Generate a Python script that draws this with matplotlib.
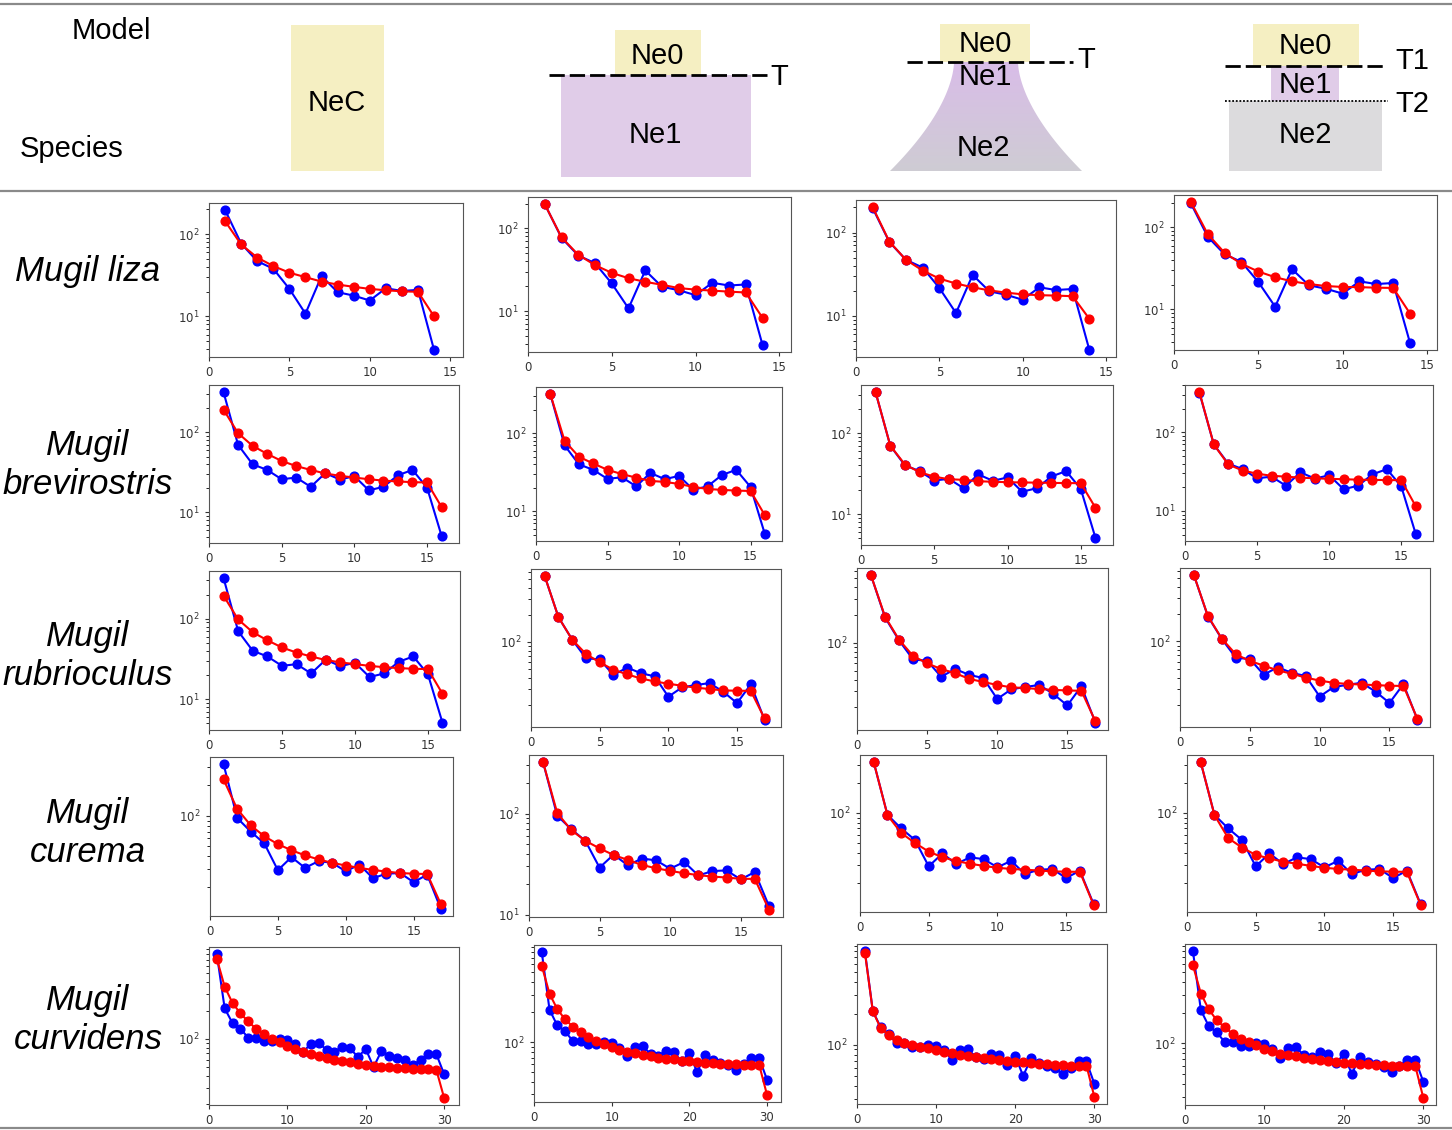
import matplotlib.pyplot as plt
import numpy as np
from matplotlib.patches import Rectangle, Polygon
from matplotlib.ticker import MultipleLocator

W, H = 1452, 1130

species = ['Mugil liza', 'Mugil\nbrevirostris', 'Mugil\nrubrioculus',
           'Mugil\ncurema', 'Mugil\ncurvidens']

# observed SFS (blue)
obs_liza = [197, 77, 47, 38, 21.6, 10.8, 31, 19.7, 17.9, 15.6, 22, 20.4, 21, 3.9]
obs_brevi = [319, 70, 40, 34, 26, 27.3, 20.9, 31, 25.8, 28.4, 18.9, 20.9, 29.2, 34, 20.5, 5.1]
obs_rubrio = [536, 188, 106, 66, 64, 43, 52, 45, 41.6, 24.7, 31.4, 33.3, 35, 28, 21, 33.9, 13.7]
obs_curema = [322, 95.5, 70, 53.6, 29.2, 39.3, 30.8, 35.9, 34.5, 28.5, 33.2, 24.4, 27, 27.4,
              22.3, 26.4, 12.2]
obs_curv = [798, 211, 147, 128, 103, 103, 95, 95, 100, 98, 88, 72, 89, 91, 76, 73, 82, 79, 64,
            78, 50, 74, 66, 62, 59, 52, 60, 69, 69, 42]

# model SFS (red): constant, two-epoch, growth, three-epoch
liza_nec = [144, 75, 52, 41, 34, 30, 26.5, 24.4, 22.9, 21.6, 20.8, 20.2, 19.9, 10]
liza_two = [196, 78, 48, 36, 29, 25, 22.6, 20.8, 19, 18.2, 17.7, 17.2, 16.8, 8.3]
liza_exp = [202, 78, 47, 35, 28, 24.4, 22, 20.2, 19, 18.1, 17.7, 17.5, 17.2, 9.2]
liza_three = [204, 83, 49, 36, 29, 24.7, 22, 20.4, 19.3, 18.8, 18.7, 18.4, 18.3, 8.9]

brevi_nec = [193, 98, 68, 54, 44, 38, 34, 30.7, 28.7, 27.3, 26, 25, 24.4, 23.9, 23.7, 11.7]
brevi_two = [320, 80, 50, 41, 34, 30, 27, 24.5, 23.8, 22.4, 20.5, 19.3, 18.8, 18.4, 18.2, 8.9]
brevi_exp = [321, 70, 41, 33, 29, 27, 26.5, 25.5, 25.1, 24.8, 24.6, 24.5, 24.3, 24.2, 24.1, 12]
brevi_three = [325, 70, 39, 32.6, 29.8, 28, 27.3, 26.5, 26, 25.6, 25.3, 25, 24.8, 24.7, 24.6, 11.5]

rubrio_two = [536, 188, 106, 73.6, 59.4, 49.3, 43.7, 39.4, 36.5, 34.4, 32.7, 31.1, 30.1, 29,
              28.8, 28.7, 14.2]
rubrio_exp = [535, 192, 108, 72, 60, 52, 47, 40.7, 37.7, 35, 33, 32.4, 31.6, 31, 30.5, 30.3, 14.2]
rubrio_three = [535, 190, 107, 72, 61, 54, 48, 44, 40, 37, 35, 34, 33.5, 33, 32.5, 32.3, 14]

curema_nec = [228, 117, 80.6, 63, 52.7, 45.9, 40.9, 37.3, 34.5, 32.5, 30.8, 29.4, 28.3, 27.4,
              27, 26.8, 13.6]
curema_two = [322, 101.5, 68.5, 53.8, 45.3, 38.9, 34.8, 31, 28.8, 27.1, 25.7, 24.6, 23.8, 23.3,
              22.6, 22.6, 11.2]
curema_exp = [323, 95, 63, 50, 41, 36, 33, 31, 29.5, 28.2, 27.5, 27, 26.5, 26, 25.8, 25.7, 12]
curema_three = [323, 95, 56, 45, 38, 35, 32.5, 31, 29.5, 28.2, 27.5, 27, 26.5, 26, 25.8, 25.7, 12]

curv_nec = [713, 359, 241, 187, 153, 128, 112, 100, 91.5, 83.8, 78, 73, 68.6, 65.3, 62.2, 59.8,
            57.4, 56, 54.2, 52.9, 51.7, 50.4, 49.7, 48.9, 48.5, 47.7, 47.3, 47.3, 46.9, 23.5]
curv_two = [583, 305, 214, 169, 143, 125, 112, 103, 95.5, 89, 84, 80, 77, 74, 72, 70, 68, 67, 65,
            64.4, 63.4, 62.4, 61.5, 61, 60, 59.7, 59.3, 59.3, 58.8, 29.6]
curv_exp = [774, 211, 144, 124, 111.6, 105, 100, 95.7, 92.3, 89, 85.8, 82.7, 80.3, 78, 75.7, 74.1,
            72.5, 71, 69.3, 68.4, 67.4, 66.4, 65.4, 64.5, 64, 63.5, 63, 63, 63, 31.5]
curv_three = [582, 307, 215, 168, 143, 124, 111, 103, 95.6, 88.6, 83.5, 79.3, 77.5, 74.6, 72.3,
              70.2, 68.6, 67.1, 66.1, 64.6, 63.7, 63.2, 62.3, 61.3, 60.9, 60.4, 60, 60, 59.6, 29.3]

# (observed, model, x upper limit) for each cell of the grid
panels = [
    [(obs_liza, liza_nec, 15.8), (obs_liza, liza_two, 15.7),
     (obs_liza, liza_exp, 15.6), (obs_liza, liza_three, 15.6)],
    [(obs_brevi, brevi_nec, 17.2), (obs_brevi, brevi_two, 17.2),
     (obs_brevi, brevi_exp, 17.2), (obs_brevi, brevi_three, 17.2)],
    [(obs_brevi, brevi_nec, 17.2), (obs_rubrio, rubrio_two, 18.2),
     (obs_rubrio, rubrio_exp, 17.9), (obs_rubrio, rubrio_three, 17.9)],
    [(obs_curema, curema_nec, 17.9), (obs_curema, curema_two, 18.0),
     (obs_curema, curema_exp, 17.9), (obs_curema, curema_three, 17.9)],
    [(obs_curv, curv_nec, 31.9), (obs_curv, curv_two, 31.8),
     (obs_curv, curv_exp, 31.6), (obs_curv, curv_three, 31.6)],
]

# axes boxes in pixels: left, top, right, bottom
boxes = [
    [(209, 203, 463, 357), (528, 197, 791, 352), (856, 200, 1116, 357), (1174, 195, 1437, 350)],
    [(209, 385, 459, 543), (536, 387, 782, 541), (861, 385, 1113, 545), (1185, 385, 1433, 541)],
    [(209, 571, 460, 730), (531, 569, 781, 727), (857, 568, 1108, 730), (1180, 568, 1430, 727)],
    [(210, 757, 453, 916), (529, 755, 783, 917), (860, 755, 1106, 912), (1187, 755, 1433, 912)],
    [(209, 947, 459, 1105), (534, 945, 781, 1102), (857, 944, 1107, 1104), (1185, 944, 1436, 1105)],
]
label_y = [272, 465, 656, 833, 1020]

yellow = '#f5efc2'
lilac = '#e0cce8'
grey = '#dcdbdd'
hfont = ['Liberation Sans', 'DejaVu Sans']
dashes = (0, (5.5, 1.8))

fig = plt.figure(figsize=(W / 100, H / 100), dpi=100)

# header drawing in pixel coordinates
bg = fig.add_axes([0, 0, 1, 1])
bg.axis('off')

for y in (4, 191, 1128):
    bg.plot([0, W], [y, y], color='#8a8a8a', lw=1.6)

def box(x0, y0, x1, y1, color):
    bg.add_patch(Rectangle((x0, y0), x1 - x0, y1 - y0, facecolor=color, edgecolor='none'))

def label(x, y, s):
    bg.text(x, y, s, ha='center', va='center', fontsize=21, family=hfont)

label(111, 31, 'Model')
label(72, 149, 'Species')

# constant size
box(291, 25, 384, 171, yellow)
label(337, 103, 'NeC')

# two epoch
box(615, 30, 701, 75, yellow)
box(561, 75, 751, 177, lilac)
bg.plot([549, 767], [75, 75], color='black', lw=2, ls=dashes)
label(657, 56, 'Ne0')
label(655, 135, 'Ne1')
label(779, 77, 'T')

# growth: flared shape with a lilac-to-grey fade
box(940, 24, 1030, 62, yellow)
ys = np.linspace(62, 171, 60)
t = (ys - 62) / (171 - 62)
half = 32 + (96 - 32) * t ** 1.7
pts = np.concatenate([np.column_stack([986 - half, ys]),
                      np.column_stack([986 + half, ys])[::-1]])
flare = Polygon(pts, closed=True, facecolor='none', edgecolor='none')
bg.add_patch(flare)
top_c = np.array([0.85, 0.74, 0.91])
bot_c = np.array([0.81, 0.80, 0.83])
fade = top_c[None, :] * (1 - t[:, None]) + bot_c[None, :] * t[:, None]
img = bg.imshow(fade[:, None, :], extent=(890, 1082, 171, 62), aspect='auto',
                interpolation='bilinear')
img.set_clip_path(flare)
bg.plot([907, 1073], [62, 62], color='black', lw=2, ls=dashes)
label(985, 44, 'Ne0')
label(985, 77, 'Ne1')
label(983, 148, 'Ne2')
label(1086, 60, 'T')

# three epoch
box(1253, 24, 1359, 66, yellow)
box(1271, 66, 1339, 101, lilac)
box(1229, 101, 1382, 171, grey)
bg.plot([1225, 1387], [66, 66], color='black', lw=2, ls=dashes)
bg.plot([1225, 1388], [101, 101], color='black', lw=1.3, ls=(0, (1, 1)))
label(1305, 46, 'Ne0')
label(1305, 85, 'Ne1')
label(1305, 135, 'Ne2')
label(1412, 61, 'T1')
label(1412, 104, 'T2')

bg.set_xlim(0, W)
bg.set_ylim(H, 0)

for i, name in enumerate(species):
    fig.text(88 / W, 1 - label_y[i] / H, name, ha='center', va='center', fontsize=25,
             style='italic', family=hfont, linespacing=1.25)

for r in range(5):
    for c in range(4):
        obs, model, xmax = panels[r][c]
        l, t0, rr, b = boxes[r][c]
        ax = fig.add_axes([l / W, 1 - b / H, (rr - l) / W, (b - t0) / H])
        x = np.arange(1, len(obs) + 1)
        ax.semilogy(x, obs, '-o', color='blue', ms=6.3, lw=1.5)
        ax.semilogy(x, model, '-o', color='red', ms=6.3, lw=1.5)
        ax.set_xlim(0, xmax)
        ax.xaxis.set_major_locator(MultipleLocator(10 if xmax > 20 else 5))
        ax.tick_params(labelsize=8.5, colors='#333333', length=3)
        ax.tick_params(which='minor', length=2)
        for s in ax.spines.values():
            s.set_color('#555555')

fig.savefig('out.png', dpi=100)
